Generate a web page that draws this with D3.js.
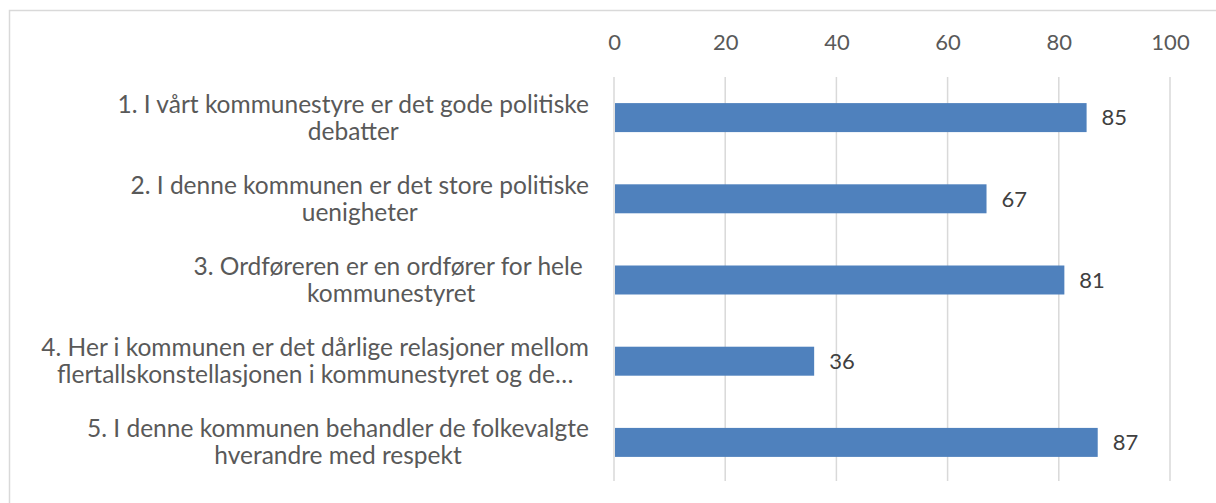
<!DOCTYPE html>
<html lang="en">
<head>
  <meta charset="UTF-8">
  <title>Kommunestyre</title>
  <script src="https://cdn.jsdelivr.net/npm/d3@7/dist/d3.min.js"></script>
  <style>
    body { margin: 0; background: #fff; }
    text { font-family: Lato, 'Open Sans', sans-serif; }
  </style>
</head>
<body>
  <svg id="chart" width="1216" height="503"></svg>
  <script>
    // each label is split in lines, like the wrapped text in the picture
    const categories = [
      ['1. I vårt kommunestyre er det gode politiske', 'debatter'],
      ['2. I denne kommunen er det store politiske', 'uenigheter'],
      ['3. Ordføreren er en ordfører for hele ', 'kommunestyret'],
      ['4. Her i kommunen er det dårlige relasjoner mellom', 'flertallskonstellasjonen i kommunestyret og de…'],
      ['5. I denne kommunen behandler de folkevalgte', 'hverandre med respekt']
    ];
    const values = [85, 67, 81, 36, 87];
    const ticks = [0, 20, 40, 60, 80, 100];

    const svg = d3.select('#chart');

    // chart area border (bottom and right are cut off in the picture)
    svg.append('rect')
      .attr('x', 9.5).attr('y', 10.5)
      .attr('width', 1300).attr('height', 600)
      .attr('fill', 'none')
      .attr('stroke', '#d9d9d9')
      .attr('stroke-width', 1.5);

    const x = d3.scaleLinear()
      .domain([0, 100])
      .range([614, 1170]);

    const y = d3.scaleBand()
      .domain(d3.range(categories.length))
      .range([77, 483])
      .paddingInner(0.643)
      .paddingOuter(0.3215);

    // top axis, only labels
    const xAxis = d3.axisTop(x).tickValues(ticks).tickSize(0).tickPadding(0);
    svg.append('g')
      .attr('transform', 'translate(0, 50)')
      .call(xAxis)
      .call(g => g.select('.domain').remove())
      .selectAll('text')
        .attr('fill', '#595959')
        .style('font-size', '22px')
        .style('font-family', 'Lato, sans-serif');

    // vertical gridlines
    svg.append('g')
      .selectAll('line').data(ticks)
      .enter().append('line')
        .attr('x1', d => x(d)).attr('x2', d => x(d))
        .attr('y1', 77).attr('y2', 481)
        .attr('stroke', '#d9d9d9')
        .attr('stroke-width', 1.5);

    svg.append('g')
      .selectAll('rect').data(values)
      .enter().append('rect')
        .attr('x', x(0) + 1)
        .attr('y', (d, i) => y(i))
        .attr('width', d => x(d) - x(0) - 1)
        .attr('height', y.bandwidth())
        .attr('fill', '#4f81bd');

    svg.append('g')
      .selectAll('text').data(values)
      .enter().append('text')
        .attr('x', d => x(d) + 15)
        .attr('y', (d, i) => y(i) + y.bandwidth() / 2)
        .attr('dy', '0.35em')
        .attr('fill', '#404040')
        .style('font-size', '22px')
        .text(d => d);

    // category labels: block right edge at 589, lines centered in the block
    const labelRight = 589;
    const labels = svg.append('g')
      .selectAll('text').data(categories)
      .enter().append('text')
        .attr('fill', '#595959')
        .style('font-size', '24.5px')
        .style('white-space', 'pre');

    labels.each(function(lines, i) {
      const t = d3.select(this);
      const cy = y(i) + y.bandwidth() / 2;
      const spans = lines.map((line, j) => t.append('tspan')
        .attr('y', cy + (j - (lines.length - 1) / 2) * 27)
        .attr('dy', '0.35em')
        .text(line));
      const maxW = d3.max(spans, s => s.node().getComputedTextLength());
      spans.forEach(s => s.attr('x', labelRight - maxW / 2).attr('text-anchor', 'middle'));
    });
  </script>
</body>
</html>
